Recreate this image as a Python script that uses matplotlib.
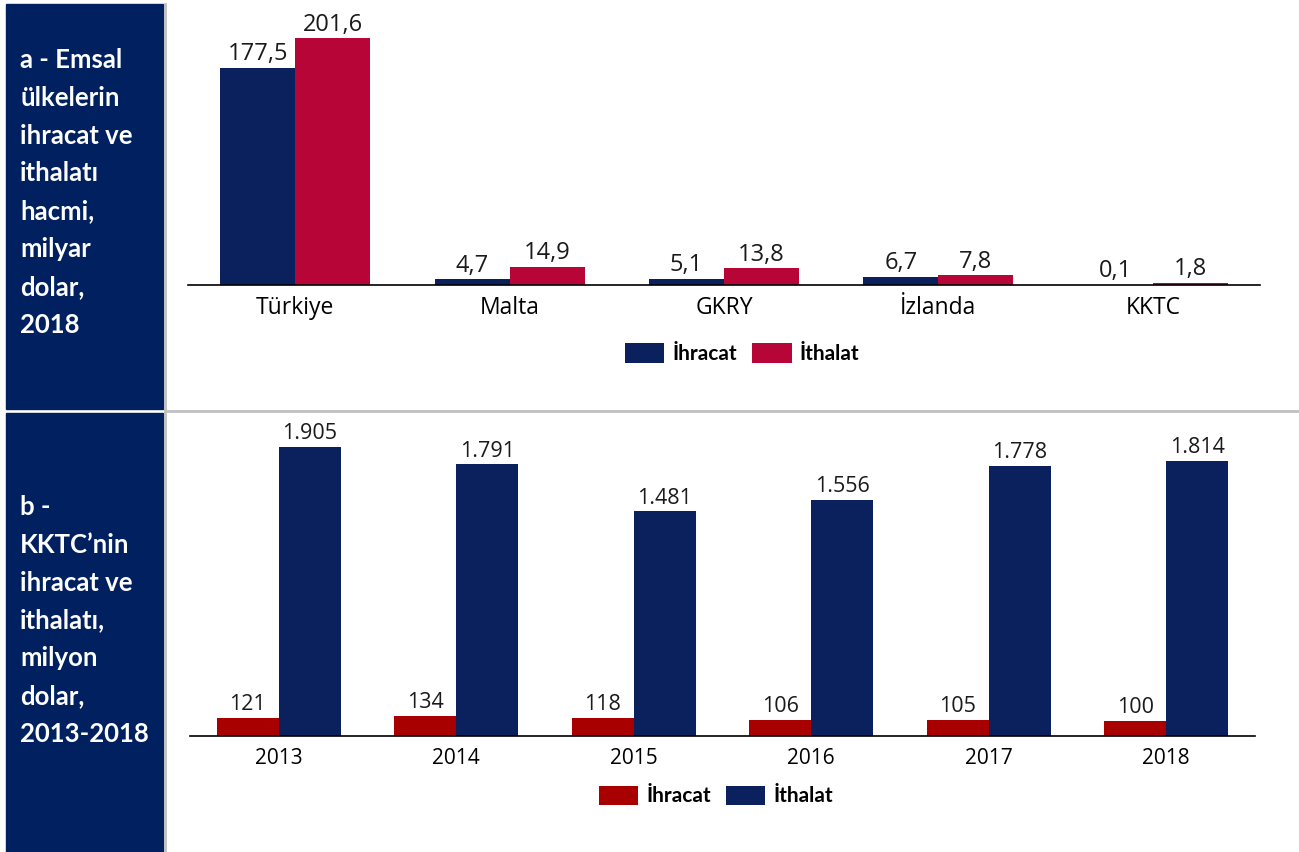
import matplotlib.pyplot as plt
from matplotlib.patches import Rectangle
from matplotlib.lines import Line2D
import numpy as np

plt.rcParams['font.family'] = ['Open Sans', 'DejaVu Sans']

# Data
countries = ['Türkiye', 'Malta', 'GKRY', 'İzlanda', 'KKTC']
exports_bn = [177.5, 4.7, 5.1, 6.7, 0.1]
imports_bn = [201.6, 14.9, 13.8, 7.8, 1.8]

years = ['2013', '2014', '2015', '2016', '2017', '2018']
kktc_exports = [121, 134, 118, 106, 105, 100]
kktc_imports = [1905, 1791, 1481, 1556, 1778, 1814]

navy = '#0b215e'
crimson = '#b70538'
red = '#a80000'
panel = '#002060'
bold_font = ['Lato', 'DejaVu Sans']

fig = plt.figure(figsize=(12.99, 8.52), dpi=100)

# left title panels
fig.patches.append(Rectangle((6 / 1299, 1 - 409 / 852), 157 / 1299, 405 / 852,
                             transform=fig.transFigure, color=panel, zorder=0))
fig.patches.append(Rectangle((6 / 1299, 0), 157 / 1299, 1 - 413 / 852,
                             transform=fig.transFigure, color=panel, zorder=0))
fig.lines.append(Line2D([164.5 / 1299, 164.5 / 1299], [0, 1 - 4 / 852],
                        transform=fig.transFigure, color='#c0c0c0', lw=2))
fig.lines.append(Line2D([164.5 / 1299, 1], [1 - 411 / 852, 1 - 411 / 852],
                        transform=fig.transFigure, color='#c0c0c0', lw=2))

fig.text(20 / 1299, 1 - 48 / 852,
         'a - Emsal\nülkelerin\nihracat ve\nithalatı\nhacmi,\nmilyar\ndolar,\n2018',
         color='white', fontsize=18.5, fontweight='bold', family=bold_font,
         va='top', ha='left', linespacing=1.69)
fig.text(20 / 1299, 1 - 495 / 852,
         'b -\nKKTC’nin\nihracat ve\nithalatı,\nmilyon\ndolar,\n2013-2018',
         color='white', fontsize=18.5, fontweight='bold', family=bold_font,
         va='top', ha='left', linespacing=1.69)

w = 0.35

# top chart
ax1 = fig.add_axes([188 / 1299, (852 - 285) / 852, 1072 / 1299, 269.5 / 852])
x = np.arange(len(countries))
b1 = ax1.bar(x - w / 2, exports_bn, w, color=navy, label='İhracat')
b2 = ax1.bar(x + w / 2, imports_bn, w, color=crimson, label='İthalat')
ax1.set_xlim(-0.5, len(countries) - 0.5)
ax1.set_ylim(0, 220)
for bars, vals in [(b1, exports_bn), (b2, imports_bn)]:
    for r, v in zip(bars, vals):
        ax1.annotate(f'{v:.1f}'.replace('.', ','), (r.get_x() + r.get_width() / 2, v),
                     xytext=(0, 1), textcoords='offset points',
                     ha='center', va='bottom', fontsize=17, color='#1a1a1a')
ax1.set_xticks(x)
ax1.set_xticklabels(countries, fontsize=16.5)
ax1.tick_params(axis='x', length=0, pad=8)
ax1.set_yticks([])
for s in ['top', 'right', 'left']:
    ax1.spines[s].set_visible(False)
ax1.spines['bottom'].set_linewidth(1.2)
ax1.patch.set_alpha(0)
ax1.legend(loc='center', bbox_to_anchor=(0.517, -0.255), ncol=2, frameon=False,
           prop={'family': bold_font, 'weight': 'bold', 'size': 15},
           handlelength=1.9, handleheight=1.05, handletextpad=0.4, columnspacing=0.7)

# bottom chart
ax2 = fig.add_axes([190 / 1299, (852 - 736) / 852, 1065 / 1299, 303.4 / 852])
x2 = np.arange(len(years))
c1 = ax2.bar(x2 - w / 2, kktc_exports, w, color=red, label='İhracat')
c2 = ax2.bar(x2 + w / 2, kktc_imports, w, color=navy, label='İthalat')
ax2.set_xlim(-0.5, len(years) - 0.5)
ax2.set_ylim(0, 2000)
for bars, vals in [(c1, kktc_exports), (c2, kktc_imports)]:
    for r, v in zip(bars, vals):
        ax2.annotate(f'{v:,}'.replace(',', '.'), (r.get_x() + r.get_width() / 2, v),
                     xytext=(0, 2), textcoords='offset points',
                     ha='center', va='bottom', fontsize=15.5, color='#1a1a1a')
ax2.set_xticks(x2)
ax2.set_xticklabels(years, fontsize=15)
ax2.tick_params(axis='x', length=0, pad=9)
ax2.set_yticks([])
for s in ['top', 'right', 'left']:
    ax2.spines[s].set_visible(False)
ax2.spines['bottom'].set_linewidth(1.2)
ax2.patch.set_alpha(0)
ax2.legend(loc='center', bbox_to_anchor=(0.494, -0.198), ncol=2, frameon=False,
           prop={'family': bold_font, 'weight': 'bold', 'size': 15},
           handlelength=1.9, handleheight=1.05, handletextpad=0.4, columnspacing=0.7)

fig.savefig('out.png', dpi=100)
